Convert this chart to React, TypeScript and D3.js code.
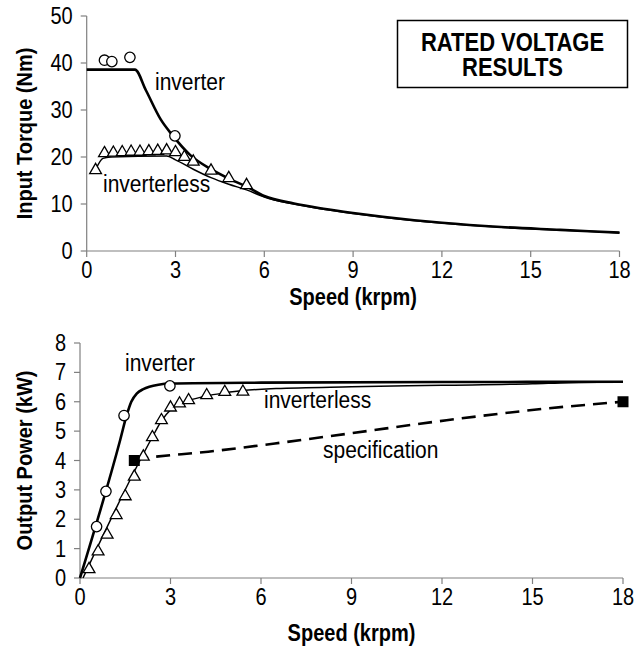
import React from "react";
import * as d3 from "d3";

// ---------- Top chart: Input torque ----------
const torqueInverterLine: [number, number][] = [
  [0, 38.6], [1.63, 38.6], [2.0, 34.2], [2.5, 28.0], [2.9, 24.6], [3.5, 20.4],
  [4.2, 17.4], [4.8, 15.4], [5.4, 13.7], [6, 11.7], [7, 10.1], [8, 9.0],
  [9, 8.1], [10, 7.3], [12, 6.0], [14, 5.1], [16, 4.5], [18, 3.9],
];
const torqueInverterlessLine: [number, number][] = [
  [0.3, 17.3], [0.55, 19.7], [0.8, 20.0], [2.7, 20.2], [3.0, 19.4], [3.6, 17.4],
  [4.2, 15.6], [4.8, 14.2], [5.4, 13.0], [6, 11.5], [7, 10.0], [8, 8.9],
  [9, 8.0], [10, 7.2], [12, 5.95], [14, 5.05], [16, 4.45], [18, 3.9],
];
const torqueInverterPts: [number, number][] = [
  [0.6, 40.6], [0.85, 40.3], [1.46, 41.2], [2.98, 24.5],
];
const torqueInverterlessPts: [number, number][] = [
  [0.3, 17.2], [0.6, 20.8], [0.9, 20.9], [1.2, 21.0], [1.5, 21.1], [1.8, 21.1],
  [2.1, 21.2], [2.4, 21.3], [2.7, 21.4], [3.0, 21.0], [3.3, 20.0], [3.6, 19.0],
  [4.2, 17.1], [4.8, 15.5], [5.4, 14.0],
];
const torqueTicks = [0, 10, 20, 30, 40, 50];

// ---------- Bottom chart: Output power ----------
const powerInverterLine: [number, number][] = [
  [0, 0], [1.33, 4.69], [1.55, 5.55], [1.7, 6.0], [1.88, 6.28], [2.1, 6.43],
  [2.3, 6.51], [2.6, 6.58], [3, 6.62], [6, 6.65], [12, 6.67], [18, 6.68],
];
const powerInverterlessLine: [number, number][] = [
  [0.1, 0], [2.4, 4.8], [2.7, 5.35], [3.0, 5.72], [3.3, 5.92], [3.6, 6.04],
  [4.2, 6.2], [4.8, 6.3], [5.4, 6.38], [6.5, 6.45], [9, 6.51], [12, 6.56],
  [15, 6.61], [16.2, 6.65], [18, 6.67],
];
const powerInverterPts: [number, number][] = [
  [0.55, 1.75], [0.86, 2.95], [1.46, 5.53], [2.98, 6.54],
];
const powerInverterlessPts: [number, number][] = [
  [0.3, 0.3], [0.6, 0.9], [0.9, 1.47], [1.2, 2.14], [1.5, 2.78], [1.8, 3.45],
  [2.1, 4.13], [2.4, 4.79], [2.7, 5.37], [3.0, 5.8], [3.3, 5.94], [3.6, 6.05],
  [4.2, 6.22], [4.8, 6.33], [5.4, 6.34],
];
const specLine: [number, number][] = [
  [1.8, 4.05], [2.5, 4.13], [4.25, 4.3], [6.46, 4.58], [9, 4.93],
  [12.15, 5.37], [15.47, 5.77], [18, 6.0],
];
const specPts: [number, number][] = [[1.8, 4.0], [18, 6.0]];
const powerTicks = [0, 1, 2, 3, 4, 5, 6, 7, 8];

const speedTicks = [0, 3, 6, 9, 12, 15, 18];

const FONT = "'Liberation Sans', Arial, Helvetica, sans-serif";
const AXIS = "#808080";
const SY = 1.15;

type Pt = [number, number];

function Txt(props: { x: number; y: number; size: number; bold?: boolean; anchor?: string; children: React.ReactNode }) {
  return (
    <text
      transform={`translate(${props.x},${props.y}) scale(1,${SY})`}
      textAnchor={props.anchor || "start"}
      fontSize={props.size}
      fontWeight={props.bold ? "bold" : "normal"}
      fontFamily={FONT}
    >
      {props.children}
    </text>
  );
}

function Panel(props: {
  x0: number; x1: number; y0: number; y1: number; yMax: number;
  yTicks: number[]; yTitle: string; xTitleY: number; yTitleX: number;
  children: (x: d3.ScaleLinear<number, number>, y: d3.ScaleLinear<number, number>) => React.ReactNode;
}) {
  const x = d3.scaleLinear().domain([0, 18]).range([props.x0, props.x1]);
  const y = d3.scaleLinear().domain([0, props.yMax]).range([props.y0, props.y1]);
  const midY = (props.y0 + props.y1) / 2;
  return (
    <g>
      <line x1={x(0)} x2={x(18)} y1={y(0)} y2={y(0)} stroke={AXIS} strokeWidth={1.2} />
      <line x1={x(0)} x2={x(0)} y1={y(0)} y2={y(props.yMax)} stroke={AXIS} strokeWidth={1.2} />
      {speedTicks.map((t) => (
        <g key={"xt" + t}>
          <line x1={x(t)} x2={x(t)} y1={y(0)} y2={y(0) + 6} stroke={AXIS} strokeWidth={1.2} />
          <Txt x={x(t)} y={y(0) + 27} size={20} anchor="middle">{t}</Txt>
        </g>
      ))}
      {props.yTicks.map((t) => (
        <g key={"yt" + t}>
          <line x1={x(0) - 6} x2={x(0)} y1={y(t)} y2={y(t)} stroke={AXIS} strokeWidth={1.2} />
          <Txt x={x(0) - 14} y={y(t) + 8} size={20} anchor="end">{t}</Txt>
        </g>
      ))}
      <Txt x={(x(0) + x(18)) / 2} y={props.xTitleY} size={20} bold anchor="middle">Speed (krpm)</Txt>
      <text transform={`translate(${props.yTitleX},${midY}) rotate(-90) scale(1,1.08)`} textAnchor="middle" fontSize={20} fontWeight="bold" fontFamily={FONT}>{props.yTitle}</text>
      {props.children(x, y)}
    </g>
  );
}

function Markers({ pts, x, y, kind }: { pts: Pt[]; x: any; y: any; kind: "circle" | "triangle" | "square" }) {
  const tri = d3.symbol().type(d3.symbolTriangle).size(60)();
  return (
    <g>
      {pts.map((p, i) => {
        const cx = x(p[0]);
        const cy = y(p[1]);
        if (kind === "circle")
          return <circle key={i} cx={cx} cy={cy} r={5.2} fill="white" stroke="black" strokeWidth={1.3} />;
        if (kind === "square")
          return <rect key={i} x={cx - 5.5} y={cy - 5.5} width={11} height={11} fill="black" />;
        return <path key={i} d={tri || ""} transform={`translate(${cx},${cy})`} fill="white" stroke="black" strokeWidth={1.3} />;
      })}
    </g>
  );
}

export default function App() {
  const lineGen = (x: any, y: any) =>
    d3.line<Pt>().x((d) => x(d[0])).y((d) => y(d[1])).curve(d3.curveMonotoneX);
  return (
    <svg width={639} height={660} style={{ position: "absolute", left: 0, top: 0 }}>
      <rect width={639} height={660} fill="white" />
      <Panel x0={86.7} x1={619.5} y0={251} y1={16} yMax={50} yTicks={torqueTicks}
        yTitle="Input Torque (Nm)" xTitleY={305} yTitleX={32}>
        {(x, y) => (
          <g>
            <path d={lineGen(x, y)(torqueInverterlessLine) || ""} fill="none" stroke="black" strokeWidth={1.5} />
            <path d={lineGen(x, y)(torqueInverterLine) || ""} fill="none" stroke="black" strokeWidth={2.6} />
            <Markers pts={torqueInverterlessPts} x={x} y={y} kind="triangle" />
            <Markers pts={torqueInverterPts} x={x} y={y} kind="circle" />
            <Txt x={155} y={90} size={21}>inverter</Txt>
            <Txt x={103} y={192} size={21}>inverterless</Txt>
          </g>
        )}
      </Panel>
      <Panel x0={80} x1={623} y0={578} y1={343} yMax={8} yTicks={powerTicks}
        yTitle="Output Power (kW)" xTitleY={641} yTitleX={32}>
        {(x, y) => (
          <g>
            <path d={lineGen(x, y)(specLine) || ""} fill="none" stroke="black" strokeWidth={2.6} strokeDasharray="14,8" />
            <path d={lineGen(x, y)(powerInverterlessLine) || ""} fill="none" stroke="black" strokeWidth={1.5} />
            <path d={lineGen(x, y)(powerInverterLine) || ""} fill="none" stroke="black" strokeWidth={2.6} />
            <Markers pts={powerInverterlessPts} x={x} y={y} kind="triangle" />
            <Markers pts={powerInverterPts} x={x} y={y} kind="circle" />
            <Markers pts={specPts} x={x} y={y} kind="square" />
            <Txt x={125} y={371} size={21}>inverter</Txt>
            <Txt x={264} y={408} size={21}>inverterless</Txt>
            <Txt x={323} y={458} size={21}>specification</Txt>
          </g>
        )}
      </Panel>
      <rect x={397.5} y={20.5} width={230} height={67} fill="white" stroke="black" strokeWidth={1.5} />
      <Txt x={512.5} y={51} size={22} bold anchor="middle">RATED VOLTAGE</Txt>
      <Txt x={512.5} y={76} size={22} bold anchor="middle">RESULTS</Txt>
    </svg>
  );
}
